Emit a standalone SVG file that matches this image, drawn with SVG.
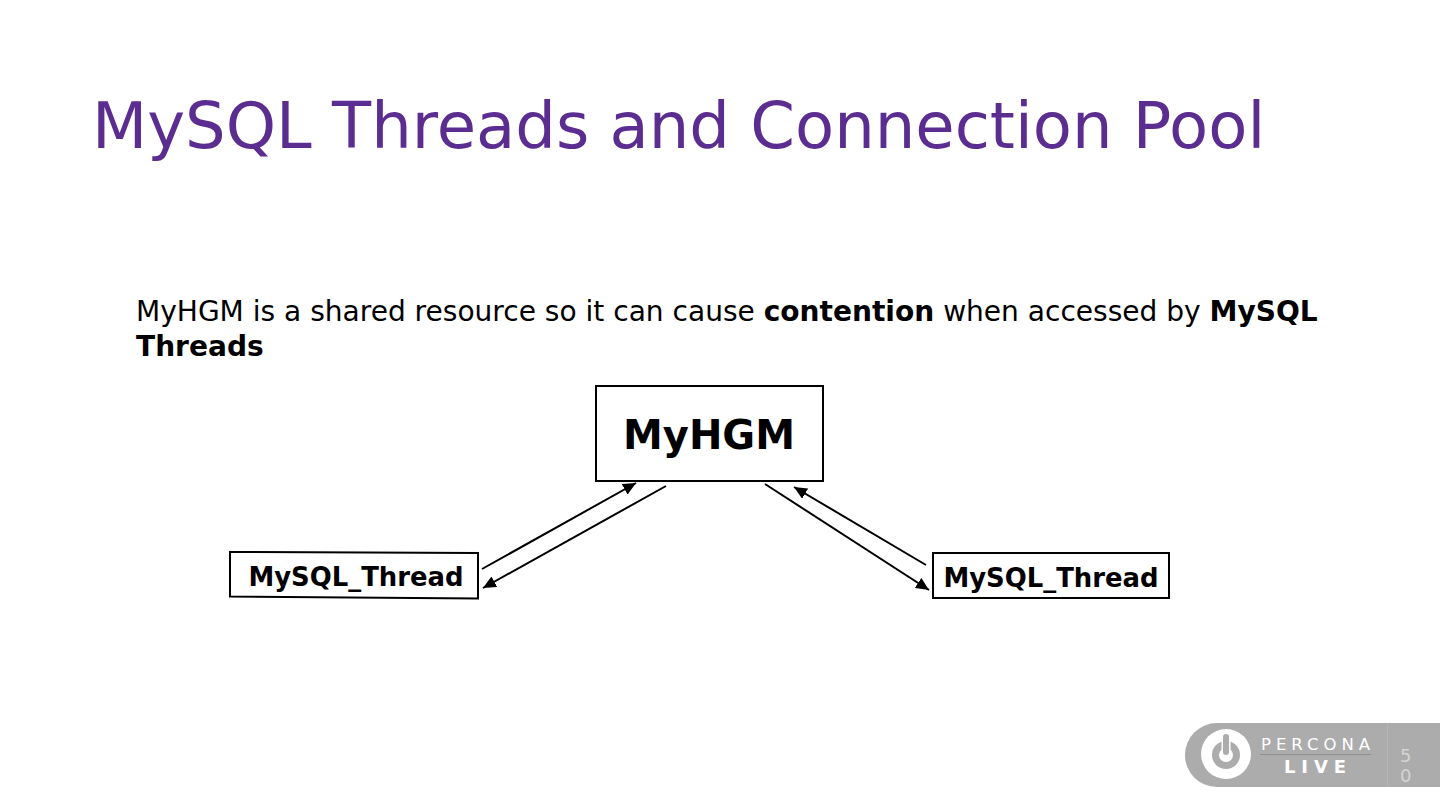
<svg xmlns="http://www.w3.org/2000/svg" width="1440" height="811" viewBox="0 0 1440 811">
<style>
text{font-family:"DejaVu Sans",sans-serif}
.box{fill:#fff;stroke:#000;stroke-width:2}
.lbl{font-weight:700;font-size:25.9px;text-anchor:middle;fill:#000}
.con{stroke:#000;stroke-width:2;fill:none;marker-end:url(#a)}
.body{font-size:28.05px;fill:#000}
.b{font-weight:700}
</style>
<defs>
<marker id="a" markerUnits="userSpaceOnUse" markerWidth="14" markerHeight="12" refX="13" refY="6" orient="auto"><path d="M0 0L13 6L0 12Z" fill="#000"/></marker>
</defs>
<rect width="1440" height="811" fill="#fff"/>
<text x="92" y="148" font-size="64" fill="#5b2d90">MySQL Threads and Connection Pool</text>
<text class="body" x="136" y="321">MyHGM is a shared resource so it can cause <tspan class="b">contention</tspan> when accessed by <tspan class="b">MySQL</tspan></text>
<text class="body b" x="136" y="355.500">Threads</text>
<g id="connectors">
<line class="con" x1="482" y1="569" x2="636" y2="483"/>
<line class="con" x1="666" y1="486" x2="483" y2="588"/>
<line class="con" x1="765" y1="484" x2="929" y2="590"/>
<line class="con" x1="926" y1="565" x2="794" y2="487"/>
</g>
<g id="node-myhgm">
<rect class="box" x="596" y="386" width="227" height="95"/>
<text class="lbl" x="709" y="449" style="font-size:40px">MyHGM</text>
</g>
<g id="node-thread-left">
<path class="box" d="M230 552L478 553V598.500L230 596.500Z"/>
<text class="lbl" x="356" y="586">MySQL_Thread</text>
</g>
<g id="node-thread-right">
<rect class="box" x="933" y="553" width="236" height="45"/>
<text class="lbl" x="1051" y="587">MySQL_Thread</text>
</g>
<g id="logo">
<path d="M1217 723H1440V787H1217A32 32 0 0 1 1217 723Z" fill="#acacac"/>
<line x1="1387.500" y1="723" x2="1387.500" y2="787" stroke="#b6b6b6" stroke-width="1"/>
<circle cx="1226" cy="754" r="25" fill="#fff"/>
<circle cx="1226" cy="755" r="10.500" fill="none" stroke="#acacac" stroke-width="7"/>
<line x1="1226" y1="737" x2="1226" y2="753" stroke="#fff" stroke-width="9" stroke-linecap="round"/>
<line x1="1226" y1="737" x2="1226" y2="752" stroke="#acacac" stroke-width="6" stroke-linecap="round"/>
<text x="1261" y="749.500" font-size="16.500" fill="#fff" textLength="109">PERCONA</text>
<line x1="1260" y1="754.500" x2="1371" y2="754.500" stroke="#8f8f8f" stroke-width="1"/>
<text x="1284" y="773" font-size="18" font-weight="700" fill="#fff" textLength="62">LIVE</text>
<text font-size="18" fill="#d4d4d4"><tspan x="1400" y="762">5</tspan><tspan x="1400" y="782">0</tspan></text>
</g>
</svg>
